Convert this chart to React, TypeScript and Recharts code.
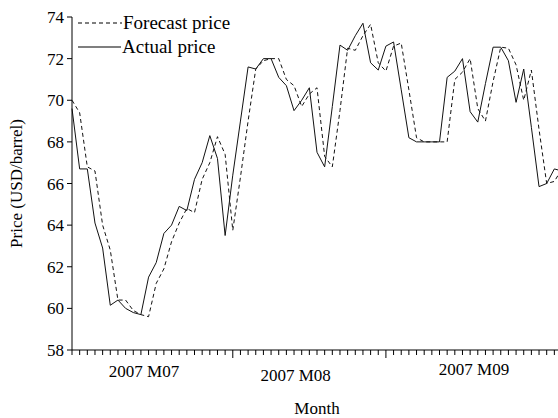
import { LineChart, Line, XAxis, YAxis, Legend } from "recharts"

// daily crude oil price, actual vs one-step forecast (trading days, Jul-Sep 2007)
const actualPrice = [
  69.6, 66.7, 66.7, 64.1, 62.9, 60.15, 60.4, 60.0, 59.8, 59.7,
  61.5, 62.2, 63.6, 64.0, 64.9, 64.7, 66.2, 67.0, 68.3, 67.2,
  63.5, 66.4, 69.0, 71.6, 71.5, 72.0, 72.0, 71.1, 70.7, 69.5,
  70.0, 70.6, 67.5, 66.8, 69.7, 72.65, 72.4, 73.1, 73.7, 71.8,
  71.45, 72.6, 72.8, 70.5, 68.2, 68.0, 68.0, 68.0, 68.0, 71.1,
  71.4, 72.0, 69.45, 68.95, 70.8, 72.55, 72.55, 71.9, 69.9, 71.5,
  68.7, 65.85, 66.0, 66.7, 66.6,
]

const forecastPrice = [
  70.0, 69.4, 66.8, 66.6, 64.0, 62.8, 60.4, 60.4, 59.9, 59.7,
  59.6, 61.2, 61.9, 63.2, 64.1, 64.8, 64.6, 66.2, 67.0, 68.25,
  67.4, 63.75, 66.3, 69.0, 71.5, 71.9, 72.0, 72.0, 71.0, 70.7,
  69.7, 70.3, 70.6, 67.3, 66.8, 69.5, 72.5, 72.4, 73.1, 73.65,
  71.8, 71.4, 72.6, 72.75, 70.5, 68.2, 68.0, 68.0, 68.0, 68.0,
  71.0, 71.35, 72.0, 69.6, 69.0, 70.9, 72.55, 72.5, 71.7, 70.0,
  71.45, 68.6, 66.0, 66.1, 66.7,
]

const monthLabels = ["2007 M07", "2007 M08", "2007 M09"]
const monthLabelAt = [9.4, 29.2, 52.5]
const monthBoundaries = [21, 41]
const priceTicks = [58, 60, 62, 64, 66, 68, 70, 72, 74]

const data = actualPrice.map((actual, i) => ({
  day: i,
  actual,
  forecast: forecastPrice[i],
}))

const dayTicks = [...data.map((d) => d.day), ...monthLabelAt]

const FONT = "'Liberation Serif', 'Times New Roman', serif"

// minor tick per trading day, longer tick at month change, staggered month labels
function DayTick(props: any) {
  const { x, y, payload } = props
  const v = payload.value
  const m = monthLabelAt.indexOf(v)
  if (m >= 0) {
    const shift = [0, 4, -2][m]
    return (
      <text x={x} y={y + 27 + shift} textAnchor="middle" fontSize={17} fontFamily={FONT} fill="#000">
        {monthLabels[m]}
      </text>
    )
  }
  const len = monthBoundaries.includes(v) ? 8 : 5
  return <line x1={x} x2={x} y1={y} y2={y + len} stroke="#000" strokeWidth={1} />
}

function PriceLegend() {
  return (
    <svg width={190} height={52} style={{ display: "block" }}>
      <line x1={1} x2={45} y1={11} y2={11} stroke="#000" strokeWidth={1.2} strokeDasharray="4 3" />
      <text x={46} y={17} fontSize={19} fontFamily={FONT} fill="#000">Forecast price</text>
      <line x1={1} x2={44} y1={35} y2={35} stroke="#000" strokeWidth={1.2} />
      <text x={45} y={41} fontSize={19} fontFamily={FONT} fill="#000">Actual price</text>
    </svg>
  )
}

export default function App() {
  return (
    <div style={{ position: "absolute", left: 0, top: 0, width: 558, height: 418, overflow: "hidden", background: "#fff" }}>
      <LineChart
        width={562}
        height={418}
        data={data}
        margin={{ top: 17, right: 0, bottom: 0, left: 0 }}
        style={{ fontFamily: FONT }}
      >
        <XAxis
          dataKey="day"
          type="number"
          domain={[0, 64]}
          ticks={dayTicks}
          interval={0}
          height={68}
          tickLine={false}
          tickSize={0}
          tickMargin={0}
          tick={<DayTick />}
          axisLine={{ stroke: "#000", strokeWidth: 1 }}
          label={{ value: "Month", position: "insideBottom", offset: 4, fontSize: 17, fill: "#000", fontFamily: FONT }}
        />
        <YAxis
          domain={[58, 74]}
          ticks={priceTicks}
          interval={0}
          width={72}
          tickSize={5}
          tickMargin={3}
          tick={{ fontSize: 17, fill: "#000", fontFamily: FONT }}
          tickLine={{ stroke: "#000" }}
          axisLine={{ stroke: "#000", strokeWidth: 1 }}
          label={{ value: "Price (USD/barrel)", angle: -90, position: "insideLeft", offset: 16, fontSize: 17, fill: "#000", fontFamily: FONT, style: { textAnchor: "middle" } }}
        />
        <Legend
          layout="vertical"
          align="center"
          verticalAlign="middle"
          content={<PriceLegend />}
          wrapperStyle={{ position: "absolute", left: 77, top: 12, width: 190 }}
        />
        <Line
          type="linear"
          dataKey="forecast"
          stroke="#111"
          strokeWidth={1}
          strokeDasharray="4 3"
          dot={false}
          isAnimationActive={false}
        />
        <Line
          type="linear"
          dataKey="actual"
          stroke="#111"
          strokeWidth={1}
          dot={false}
          isAnimationActive={false}
        />
      </LineChart>
    </div>
  )
}
